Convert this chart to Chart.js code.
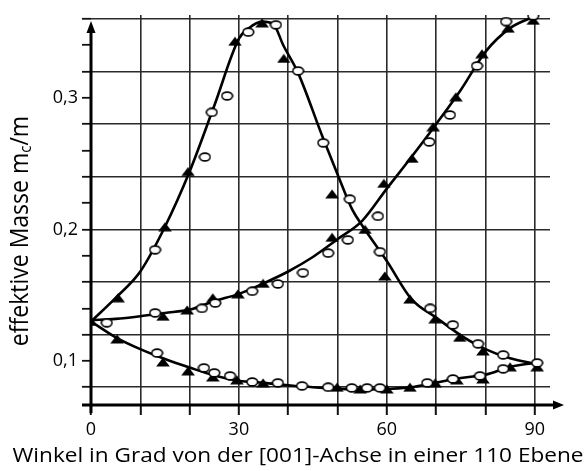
<!DOCTYPE html>
<html>
<head>
<meta charset="utf-8">
<script src="https://cdn.jsdelivr.net/npm/chart.js@4.4.1/dist/chart.umd.min.js"></script>
<style>
  html, body { margin: 0; padding: 0; background: #fff; }
  canvas { display: block; }
</style>
</head>
<body>
<canvas id="grafico" width="587" height="471" style="width:587px;height:471px"></canvas>
<script>
// Kurven (Winkel in Grad, effektive Masse m_c/m)
const kurveAWinkel = [0, 5, 10, 15, 20, 25, 30, 32, 34.7, 37, 39, 42, 47, 50, 53, 55, 60, 65, 70, 75, 80, 85, 90];
const kurveAMasse  = [0.130, 0.148, 0.168, 0.202, 0.244, 0.294, 0.345, 0.353, 0.358, 0.356, 0.340, 0.319, 0.270, 0.242, 0.215, 0.203, 0.176, 0.147, 0.133, 0.1195, 0.109, 0.102, 0.098];

const kurveBWinkel = [0, 5, 10, 15, 20, 25, 30, 35, 40, 45, 50, 55, 60, 65, 70, 75, 80, 85, 90];
const kurveBMasse  = [0.131, 0.132, 0.134, 0.1365, 0.139, 0.1455, 0.151, 0.159, 0.168, 0.179, 0.1925, 0.2065, 0.231, 0.255, 0.280, 0.306, 0.335, 0.353, 0.362];

const kurveCWinkel = [0, 5, 10, 15, 20, 25, 30, 35, 40, 45, 50, 55, 60, 65, 70, 75, 80, 85, 90];
const kurveCMasse  = [0.130, 0.118, 0.109, 0.1015, 0.095, 0.089, 0.085, 0.0833, 0.0815, 0.080, 0.079, 0.078, 0.0787, 0.080, 0.0835, 0.087, 0.0895, 0.0955, 0.0985];

// Messpunkte: offene Kreise
const kreisWinkel = [13.0, 23.1, 24.5, 27.6, 31.9, 37.5, 42.0, 47.1, 52.5, 58.6, 68.8, 73.4, 78.5, 83.6, 90.5,
                     13.0, 22.5, 25.2, 32.7, 37.9, 43.0, 48.1, 52.1, 58.2, 68.6, 72.8, 78.3, 84.2, 89.7,
                     3.2, 13.4, 22.9, 25.0, 28.2, 32.7, 37.9, 42.8, 48.1, 52.9, 56.0, 58.6, 68.2, 73.4, 78.9, 83.6];
const kreisMasse  = [0.1845, 0.255, 0.289, 0.3015, 0.350, 0.3555, 0.3205, 0.2658, 0.223, 0.183, 0.140, 0.1274, 0.113, 0.1046, 0.0985,
                     0.1365, 0.140, 0.144, 0.153, 0.1585, 0.167, 0.182, 0.192, 0.210, 0.2665, 0.287, 0.3243, 0.358, 0.3624,
                     0.129, 0.106, 0.0947, 0.0909, 0.0886, 0.084, 0.0833, 0.081, 0.080, 0.0795, 0.0795, 0.0795, 0.0833, 0.0863, 0.0886, 0.094];

// Messpunkte: gefuellte Dreiecke
const dreieckWinkel = [0, 5.5, 15.0, 19.7, 29.2, 34.7, 39.1, 48.9, 55.6, 59.6, 64.7, 69.8, 74.8, 79.5, 90.5,
                       14.6, 19.5, 24.7, 29.8, 34.9, 48.9, 59.4, 65.1, 69.4, 74.0, 79.3, 84.6, 89.7,
                       5.3, 14.6, 19.7, 24.7, 29.6, 34.9, 49.9, 54.6, 60.0, 64.7, 69.8, 74.2, 79.5, 85.0];
const dreieckMasse  = [0.130, 0.148, 0.202, 0.244, 0.343, 0.357, 0.330, 0.227, 0.200, 0.1646, 0.147, 0.132, 0.118, 0.1076, 0.0955,
                       0.134, 0.1388, 0.148, 0.151, 0.159, 0.194, 0.235, 0.254, 0.278, 0.3008, 0.3335, 0.353, 0.359,
                       0.1167, 0.0992, 0.0924, 0.0878, 0.0856, 0.0833, 0.080, 0.0787, 0.0787, 0.080, 0.0833, 0.0856, 0.0863, 0.0955];

// Achsen
const xMin = 0, xMax = 93.1, xSchritt = 10;
const xBeschriftet = [0, 30, 60, 90];
const yMin = 0.0665, yMax = 0.363, ySchritt = 0.02;
const yBeschriftet = [0.1, 0.2, 0.3];
const xTitel = 'Winkel in Grad von der [001]-Achse in einer 110 Ebene';
const yTitelTeile = ['effektive Masse m', 'c', '/m'];

function punkte(xs, ys) {
    return xs.map((x, i) => ({ x: x, y: ys[i] }));
}

// Symbole als kleine Bilder (im Original etwas breit gezogen)
function dreieckBild() {
    const c = document.createElement('canvas');
    c.width = 14; c.height = 10;
    const g = c.getContext('2d');
    g.fillStyle = '#000';
    g.beginPath();
    g.moveTo(7, 0.5);
    g.lineTo(13.8, 9.6);
    g.lineTo(0.2, 9.6);
    g.closePath();
    g.fill();
    return c;
}
function kreisBild() {
    const c = document.createElement('canvas');
    c.width = 13; c.height = 10;
    const g = c.getContext('2d');
    g.fillStyle = '#fff';
    g.strokeStyle = '#000';
    g.lineWidth = 1.6;
    g.beginPath();
    g.ellipse(6.5, 5, 5.3, 3.9, 0, 0, Math.PI * 2);
    g.fill();
    g.stroke();
    return c;
}

const istVielfaches = (v, s) => Math.abs(v / s - Math.round(v / s)) < 1e-6;

const achsenPlugin = {
    id: 'achsen',
    afterDraw(chart) {
        const ctx = chart.ctx;
        const a = chart.chartArea;
        const x0 = chart.scales.x.getPixelForValue(0);
        const yBoden = a.bottom;
        ctx.save();
        ctx.strokeStyle = '#000';
        ctx.fillStyle = '#000';
        ctx.lineWidth = 3;
        // y-Achse mit Pfeil
        ctx.beginPath();
        ctx.moveTo(x0, yBoden + 8);
        ctx.lineTo(x0, a.top + 16);
        ctx.stroke();
        ctx.beginPath();
        ctx.moveTo(x0, a.top + 6);
        ctx.lineTo(x0 + 4.5, a.top + 18);
        ctx.lineTo(x0 - 4.5, a.top + 18);
        ctx.closePath();
        ctx.fill();
        // x-Achse mit Pfeil
        ctx.beginPath();
        ctx.moveTo(x0 - 9, yBoden);
        ctx.lineTo(a.right + 4, yBoden);
        ctx.stroke();
        ctx.beginPath();
        ctx.moveTo(a.right + 14, yBoden);
        ctx.lineTo(a.right + 3, yBoden - 4.5);
        ctx.lineTo(a.right + 3, yBoden + 4.5);
        ctx.closePath();
        ctx.fill();

        // x-Titel (im Original breit gezogen)
        ctx.save();
        ctx.font = '20px "Open Sans"';
        ctx.textAlign = 'center';
        ctx.textBaseline = 'alphabetic';
        ctx.translate(298, 462);
        ctx.scale(1.13, 1);
        ctx.fillText(xTitel, 0, 0);
        ctx.restore();

        // y-Titel mit tiefgestelltem c
        const gross = '23px "Open Sans"', klein = '15px "Open Sans"';
        ctx.font = gross;
        const w1 = ctx.measureText(yTitelTeile[0]).width;
        const w3 = ctx.measureText(yTitelTeile[2]).width;
        ctx.font = klein;
        const w2 = ctx.measureText(yTitelTeile[1]).width;
        const gesamt = w1 + w2 + w3;
        ctx.translate(28, (a.top + a.bottom) / 2 + 21);
        ctx.scale(1.12, 1);
        ctx.rotate(-Math.PI / 2);
        ctx.textAlign = 'left';
        let pos = -gesamt / 2;
        ctx.font = gross;
        ctx.fillText(yTitelTeile[0], pos, 0);
        pos += w1;
        ctx.font = klein;
        ctx.fillText(yTitelTeile[1], pos, 3);
        pos += w2;
        ctx.font = gross;
        ctx.fillText(yTitelTeile[2], pos, 0);
        ctx.restore();
    }
};

const linie = (xs, ys) => ({
    type: 'line',
    data: punkte(xs, ys),
    borderColor: '#000',
    borderWidth: 2.6,
    pointRadius: 0,
    fill: false,
    cubicInterpolationMode: 'monotone'
});

new Chart(document.getElementById('grafico'), {
    type: 'scatter',
    data: {
        datasets: [
            {
                label: 'Kreise',
                data: punkte(kreisWinkel, kreisMasse),
                pointStyle: kreisBild(),
                showLine: false
            },
            {
                label: 'Dreiecke',
                data: punkte(dreieckWinkel, dreieckMasse),
                pointStyle: dreieckBild(),
                showLine: false
            },
            linie(kurveAWinkel, kurveAMasse),
            linie(kurveBWinkel, kurveBMasse),
            linie(kurveCWinkel, kurveCMasse)
        ]
    },
    options: {
        responsive: false,
        animation: false,
        layout: { padding: { top: 15, right: 37, left: 0, bottom: 0 } },
        plugins: {
            legend: { display: false },
            tooltip: { enabled: false }
        },
        scales: {
            x: {
                type: 'linear',
                min: xMin,
                max: xMax,
                afterFit: (s) => { s.height = 66; },
                border: { display: false },
                grid: {
                    color: (c) => (c.tick && c.tick.value > 0 && istVielfaches(c.tick.value, xSchritt)) ? '#2a2a2a' : 'rgba(0,0,0,0)',
                    lineWidth: 1.6,
                    tickLength: 10,
                    tickColor: (c) => (c.tick && istVielfaches(c.tick.value, xSchritt)) ? '#111' : 'rgba(0,0,0,0)',
                    tickWidth: 2
                },
                ticks: {
                    stepSize: xSchritt,
                    includeBounds: false,
                    autoSkip: false,
                    maxRotation: 0,
                    padding: 4,
                    color: '#000',
                    font: { family: 'Open Sans', size: 18 },
                    callback: (v) => xBeschriftet.includes(v) ? String(v) : ''
                }
            },
            y: {
                type: 'linear',
                min: yMin,
                max: yMax,
                afterFit: (s) => { s.width = 91; },
                border: { display: false },
                grid: {
                    color: (c) => (c.tick && istVielfaches(c.tick.value, 0.04)) ? '#2a2a2a' : 'rgba(0,0,0,0)',
                    lineWidth: 1.6,
                    tickLength: 9,
                    tickColor: (c) => (c.tick && istVielfaches(c.tick.value, ySchritt)) ? '#111' : 'rgba(0,0,0,0)',
                    tickWidth: 1.8
                },
                ticks: {
                    stepSize: ySchritt,
                    includeBounds: false,
                    autoSkip: false,
                    padding: 4,
                    color: '#000',
                    font: { family: 'Open Sans', size: 18 },
                    callback: (v) => yBeschriftet.some((b) => Math.abs(b - v) < 1e-6) ? String(v).replace('.', ',') : ''
                }
            }
        }
    },
    plugins: [achsenPlugin]
});
</script>
</body>
</html>
